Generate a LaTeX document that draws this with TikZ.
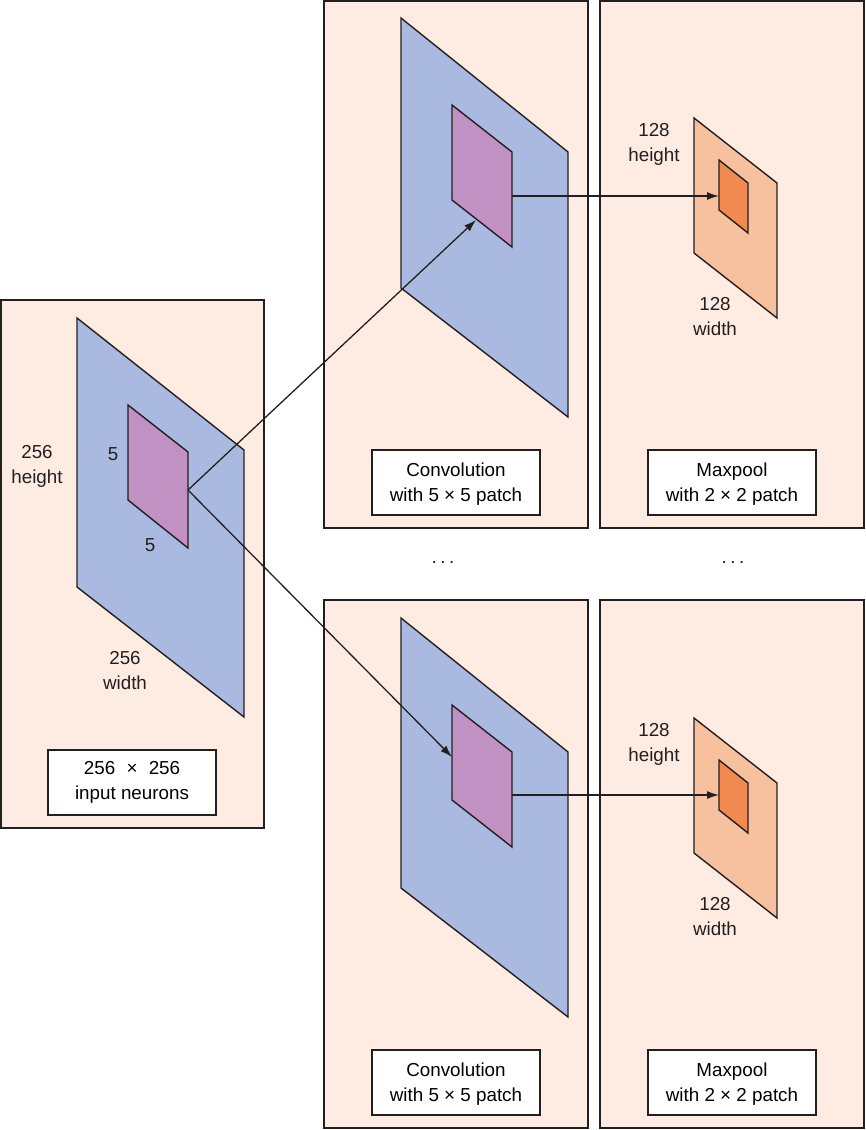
\documentclass[tikz,border=0pt]{standalone}
\usepackage{fontspec}
\setmainfont{Liberation Sans}
\usetikzlibrary{arrows.meta}
\definecolor{panelbg}{RGB}{254,236,226}
\definecolor{linecol}{RGB}{35,31,32}
\definecolor{bluefill}{RGB}{170,185,223}
\definecolor{purplefill}{RGB}{194,145,196}
\definecolor{orangelight}{RGB}{247,192,158}
\definecolor{orangedark}{RGB}{240,138,80}
\begin{document}
\begin{tikzpicture}[x=1pt,y=-1pt,
  panel/.style={draw=linecol,fill=panelbg,line width=1.4pt},
  sheet/.style={draw=linecol,line width=1.4pt,line join=miter},
  labelbox/.style={draw=linecol,fill=white,line width=1.1pt,minimum width=168pt,minimum height=65pt,align=center,inner sep=0pt},
  txt/.style={align=center,inner sep=0pt,text=linecol},
  arr/.style={draw=linecol,line width=1.3pt,-{Latex[length=12pt,width=8pt]}},
  every node/.style={font=\fontsize{18.8}{25}\selectfont}
]
\useasboundingbox (0,0) rectangle (865,1130);

% panels
\draw[panel] (1,300) rectangle (264,828);
\draw[panel] (324,0.8) rectangle (588,528);
\draw[panel] (600,0.8) rectangle (864,528);
\draw[panel] (324,600) rectangle (588,1128);
\draw[panel] (600,600) rectangle (864,1128);

% input sheet
\draw[sheet,fill=bluefill] (77,318) -- (244,450) -- (244,717) -- (77,587) -- cycle;
\draw[sheet,fill=purplefill] (128,405) -- (188,452) -- (188,548) -- (128,500) -- cycle;

% top conv
\draw[sheet,fill=bluefill] (401,18) -- (568,152) -- (568,417) -- (401,288) -- cycle;
\draw[sheet,fill=purplefill] (452,105) -- (512,152) -- (512,247) -- (452,200) -- cycle;
% top maxpool
\draw[sheet,fill=orangelight] (694,118) -- (777,183) -- (777,318) -- (694,253) -- cycle;
\draw[sheet,fill=orangedark] (719,160) -- (748,183) -- (748,233) -- (719,210) -- cycle;

% bottom conv
\draw[sheet,fill=bluefill] (401,618) -- (568,752) -- (568,1017) -- (401,888) -- cycle;
\draw[sheet,fill=purplefill] (452,705) -- (512,752) -- (512,847) -- (452,800) -- cycle;
% bottom maxpool
\draw[sheet,fill=orangelight] (694,718) -- (777,783) -- (777,918) -- (694,853) -- cycle;
\draw[sheet,fill=orangedark] (719,760) -- (748,783) -- (748,833) -- (719,810) -- cycle;

% coordinates for connectors
\coordinate (src) at (188,490);
\coordinate (topin) at (476,220);
\coordinate (botin) at (452,757);
\coordinate (topout) at (512,196);
\coordinate (toppool) at (719,196);
\coordinate (botout) at (512,795);
\coordinate (botpool) at (719,795);

\draw[arr] (src) -- (topin);
\draw[arr] (src) -- (botin);
\draw[arr] (topout) -- (toppool);
\draw[arr] (botout) -- (botpool);

% labels input
\node[txt] (h256) at (37,466) {256\\height};
\node[txt] (p5a) at (113,454) {5};
\node[txt] (p5b) at (150,545) {5};
\node[txt] (w256) at (125,671) {256\\width};
\node[labelbox] (inlab) at (132,782.5) {256\hspace{0.6em}×\hspace{0.6em}256\\input neurons};

% labels top
\node[labelbox] (convlabA) at (456,482.5) {\strut Convolution\\with 5 × 5 patch};
\node[labelbox] (poollabA) at (732,482.5) {\strut Maxpool\\with 2 × 2 patch};
\node[txt] (hA) at (654,144) {128\\height};
\node[txt] (wA) at (715,317) {128\\width};

% labels bottom
\node[labelbox] (convlabB) at (456,1082.5) {\strut Convolution\\with 5 × 5 patch};
\node[labelbox] (poollabB) at (732,1082.5) {\strut Maxpool\\with 2 × 2 patch};
\node[txt] (hB) at (654,744) {128\\height};
\node[txt] (wB) at (715,917) {128\\width};

% dots
\node[txt] (dotsA) at (443,562) {.\hspace{3.5pt}.\hspace{3.5pt}.};
\node[txt] (dotsB) at (733,562) {.\hspace{3.5pt}.\hspace{3.5pt}.};
\end{tikzpicture}
\end{document}
